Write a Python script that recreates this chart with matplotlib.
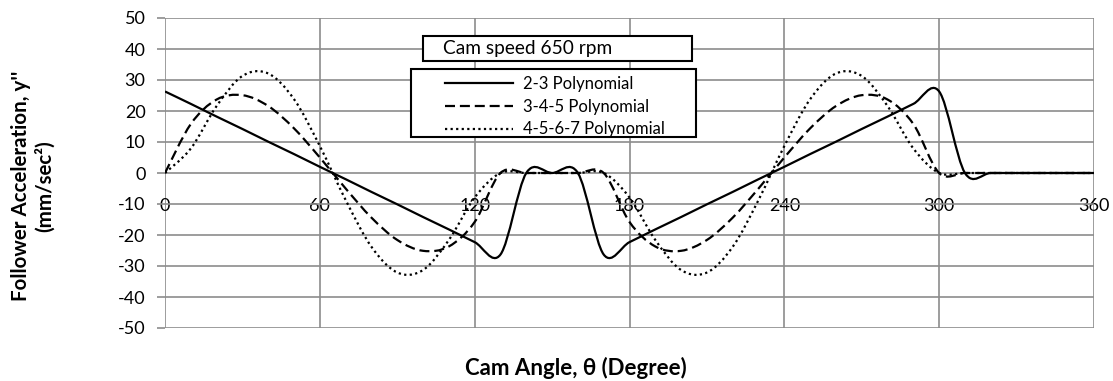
import numpy as np
import matplotlib
matplotlib.use('Agg')
import matplotlib.pyplot as plt
from matplotlib.path import Path
from matplotlib.patches import PathPatch, Rectangle
from matplotlib.lines import Line2D

plt.rcParams['font.family'] = ['Lato', 'DejaVu Sans']
plt.rcParams['axes.unicode_minus'] = False

# Cam angle samples (degrees) and follower acceleration (mm/sec^2)
cam_angle = [0, 10, 20, 30, 40, 50, 60, 70, 80, 90, 100, 110, 120, 130,
             140, 150, 160, 170, 180, 190, 200, 210, 220, 230, 240, 250,
             260, 270, 280, 290, 300, 310, 320, 330, 340, 350, 360]

acc_23 = [26.3, 22.3, 18.2, 14.2, 10.1, 6.1, 2.0, -2.0, -6.1, -10.1, -14.2, -18.2, -22.3, -26.3,
          0.0, 0.0, 0.0, -26.3, -22.3, -18.2, -14.2, -10.1, -6.1, -2.0, 2.0, 6.1,
          10.1, 14.2, 18.2, 22.3, 26.3, 0.0, 0.0, 0.0, 0.0, 0.0, 0.0]

acc_345 = [0.0, 15.8, 23.7, 25.1, 21.6, 14.4, 5.0, -5.0, -14.4, -21.6, -25.1, -23.7, -15.8, 0.0,
           0.0, 0.0, 0.0, 0.0, -15.8, -23.7, -25.1, -21.6, -14.4, -5.0, 5.0, 14.4,
           21.6, 25.1, 23.7, 15.8, 0.0, 0.0, 0.0, 0.0, 0.0, 0.0, 0.0]

acc_4567 = [0.0, 7.9, 21.6, 31.3, 32.1, 23.8, 8.7, -8.7, -23.8, -32.1, -31.3, -21.6, -7.9, 0.0,
            0.0, 0.0, 0.0, 0.0, -7.9, -21.6, -31.3, -32.1, -23.8, -8.7, 8.7, 23.8,
            32.1, 31.3, 21.6, 7.9, 0.0, 0.0, 0.0, 0.0, 0.0, 0.0, 0.0]

series_labels = ['2-3 Polynomial', '3-4-5 Polynomial', '4-5-6-7 Polynomial']
x_ticks = [0, 60, 120, 180, 240, 300, 360]
y_ticks = list(range(-50, 51, 10))

styles = ['-', (0, (4.5, 2.2)), (0, (1, 1.5))]
grid_color = '#8c8c8c'


# Excel-style smoothed line: cubic Bezier through the data points
def smooth_path(x, y):
    n = len(x)
    verts = [(x[0], y[0])]
    codes = [Path.MOVETO]
    for i in range(n - 1):
        a = max(i - 1, 0)
        b = min(i + 2, n - 1)
        c1 = (x[i] + (x[i + 1] - x[a]) / 6, y[i] + (y[i + 1] - y[a]) / 6)
        c2 = (x[i + 1] - (x[b] - x[i]) / 6, y[i + 1] - (y[b] - y[i]) / 6)
        verts += [c1, c2, (x[i + 1], y[i + 1])]
        codes += [Path.CURVE4] * 3
    return Path(verts, codes)


fig = plt.figure(figsize=(11.13, 3.81), dpi=100)
W, H = 1113, 381
ax = fig.add_axes([165 / W, 1 - 328 / H, (1094 - 165) / W, (328 - 18) / H])

for vals, ls in zip([acc_23, acc_345, acc_4567], styles):
    patch = PathPatch(smooth_path(cam_angle, vals), fill=False, edgecolor='black',
                      linewidth=1.6, linestyle=ls, zorder=3)
    ax.add_patch(patch)

ax.set_xlim(0, 360)
ax.set_ylim(-50, 50)
ax.set_xticks(x_ticks)
ax.set_yticks(y_ticks)
ax.grid(True, color=grid_color, linewidth=1.2)
ax.set_axisbelow(True)

for s in ['top', 'right', 'left']:
    ax.spines[s].set_visible(False)
ax.spines['bottom'].set_position(('data', 0))
ax.spines['bottom'].set_visible(False)

ax.tick_params(axis='x', length=0, pad=18, labelsize=13)
ax.tick_params(axis='y', length=6, width=1.2, color=grid_color, pad=8, labelsize=13)

# title box
ax.add_patch(Rectangle(((423 - 165) / 929, 1 - (61 - 18) / 310), (692 - 423) / 929, 25 / 310,
                       transform=ax.transAxes, fill=True, facecolor='white',
                       edgecolor='black', linewidth=1.5, zorder=4))
ax.text((443 - 165) / 929, 1 - (48.5 - 18) / 310, 'Cam speed 650 rpm', transform=ax.transAxes,
        ha='left', va='center', fontsize=13.8, zorder=5)

# legend box
ax.add_patch(Rectangle(((411 - 165) / 929, 1 - (137 - 18) / 310), (696 - 411) / 929, 68 / 310,
                       transform=ax.transAxes, fill=True, facecolor='white',
                       edgecolor='black', linewidth=1.5, zorder=4))
handles = [Line2D([], [], color='black', linewidth=1.6, linestyle=ls) for ls in styles]
leg = ax.legend(handles, series_labels, loc='upper left',
                bbox_to_anchor=((445 - 165) / 929, 1 - (76 - 18) / 310),
                frameon=False, fontsize=12, handlelength=4.1, handletextpad=0.6,
                labelspacing=0.4, borderpad=0, borderaxespad=0)
leg.set_zorder(6)

fig.text(576 / W, 1 - 368 / H, 'Cam Angle, θ (Degree)', ha='center', va='center',
         fontsize=16, fontweight='bold')
fig.text(33 / W, 1 - 186 / H, "Follower Acceleration, y''\n(mm/sec²)", ha='center', va='center',
         rotation=90, fontsize=14.8, fontweight='bold', multialignment='center',
         linespacing=1.25)

fig.savefig('out.png', dpi=100)
